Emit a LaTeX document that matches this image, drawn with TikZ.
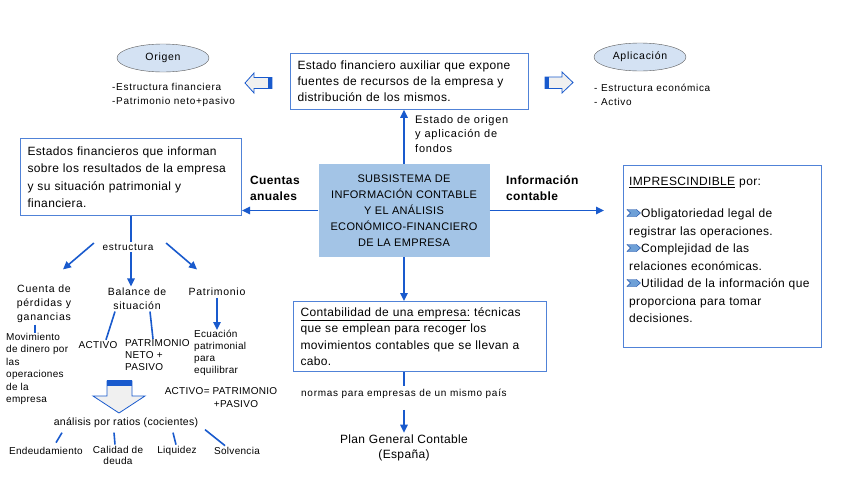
\documentclass[tikz,border=0pt]{standalone}
\usepackage{fontspec}
\setmainfont[LetterSpace=3]{Liberation Sans}
\newfontfamily\widefont[LetterSpace=7]{Liberation Sans}
\usepackage{tikz}
\usetikzlibrary{arrows.meta,shapes.geometric,positioning}

\definecolor{lineblue}{RGB}{25,90,205}
\definecolor{boxblue}{RGB}{80,130,215}
\definecolor{subfill}{RGB}{163,196,230}
\definecolor{ovalfill}{RGB}{212,226,243}
\definecolor{chevfill}{RGB}{110,160,215}

\begin{document}
\begin{tikzpicture}[x=1pt, y=-1pt,
  >={Triangle[length=8pt,width=7.5pt]},
  ln/.style={draw=lineblue, line width=1.6pt},
  box/.style={draw=boxblue, line width=1pt, fill=white, align=left, anchor=north west},
  oval/.style={ellipse, draw=gray!70!black, fill=ovalfill, minimum width=92pt, minimum height=28pt, font=\widefont\fontsize{10.5}{12}\selectfont},
  lst/.style={align=left, inner sep=0pt, font=\widefont\fontsize{10}{14}\selectfont},
  sm/.style={align=center, inner sep=1.5pt, font=\widefont\fontsize{10.5}{14}\selectfont},
  tight/.style={align=left, inner sep=0pt, font=\fontsize{10}{12.5}\selectfont},
  hd/.style={align=left, anchor=west, inner sep=0pt, font=\bfseries\fontsize{12}{16}\selectfont}]
  \useasboundingbox (0,0) rectangle (848,477);

  \node[oval] (origen) at (163,58) {Origen};
  \node[oval] (aplic) at (640,57) {Aplicación};
  \node[lst, anchor=west] (origlist) at (112,95) {-Estructura financiera\\-Patrimonio neto+pasivo};
  \node[lst, anchor=west] (aplist) at (594,95) {- Estructura económica\\- Activo};
  \filldraw[draw=lineblue, fill=gray!12, line width=0.8pt] (245,83) -- (254,73) -- (254,77.5) -- (272,77.5) -- (272,88.5) -- (254,88.5) -- (254,93) -- cycle;
  \fill[lineblue] (268,77.5) rectangle (272,88.5);
  \filldraw[draw=lineblue, fill=gray!12, line width=0.8pt] (573,82.5) -- (562,72) -- (562,77) -- (545,77) -- (545,88.5) -- (562,88.5) -- (562,93) -- cycle;
  \fill[lineblue] (545,77) rectangle (549,88.5);

  \node[box, text width=224pt, inner xsep=7pt, inner ysep=7.5pt, font=\fontsize{12}{16}\selectfont] (aux) at (290,53) {Estado financiero auxiliar que expone\\fuentes de recursos de la empresa y\\distribución de los mismos.};
  \node[fill=subfill, minimum width=171pt, minimum height=93pt, align=center, font=\fontsize{11}{16}\selectfont] (sub) at (404,210.5) {SUBSISTEMA DE\\INFORMACIÓN CONTABLE\\Y EL ANÁLISIS\\ECONÓMICO-FINANCIERO\\DE LA EMPRESA};
  \draw[ln, ->] (sub.north) -- (sub.north |- aux.south);
  \node[lst, anchor=north west, font=\widefont\fontsize{11}{14.5}\selectfont] (origapl) at (415,115) {Estado de origen\\y aplicación de\\fondos};

  \node[box, text width=207pt, inner xsep=7pt, inner ysep=8pt, font=\fontsize{12}{17.5}\selectfont] (cuentas) at (20,138) {Estados financieros que informan\\sobre los resultados de la empresa\\y su situación patrimonial y\\financiera.};
  \draw[ln, ->] (sub.west) -- (sub.west -| cuentas.east);
  \node[hd] (ca) at (250,188) {Cuentas\\anuales};
  \node[hd] (ic) at (506,188) {Información\\contable};
  \coordinate (icend) at (604,210.5);
  \draw[ln, ->] (sub.east) -- (icend);

  \node[draw=boxblue, line width=1pt, minimum width=198pt, minimum height=182pt, anchor=north west] (imp) at (623,165) {};
  \node[anchor=north west, inner sep=0pt, text width=190pt, align=left, font=\fontsize{12}{17.5}\selectfont] (imptxt) at ([xshift=6pt,yshift=-12pt]imp.north west) {\underline{IMPRESCINDIBLE} por:\\[14.5pt]
    \hspace*{12pt}Obligatoriedad legal de\\registrar las operaciones.\\
    \hspace*{12pt}Complejidad de las\\relaciones económicas.\\
    \hspace*{12pt}Utilidad de la información que\\proporciona para tomar\\decisiones.};
  \foreach \cy in {213,248,283}
    \filldraw[draw=lineblue!80!black, fill=chevfill, line width=0.4pt] (627,\cy-3.5) -- (636.5,\cy-3.5) -- (640.5,\cy) -- (636.5,\cy+3.5) -- (627,\cy+3.5) -- (630.5,\cy) -- cycle;

  \node[box, text width=239pt, inner xsep=7pt, inner ysep=6pt, font=\fontsize{12}{16.5}\selectfont] (conta) at (293,301) {\underline{Contabilidad de una empresa:} técnicas\\que se emplean para recoger los\\movimientos contables que se llevan a\\cabo.};
  \draw[ln, ->] (sub.south) -- (sub.south |- conta.north);
  \node[sm, inner ysep=3pt, font=\widefont\fontsize{10}{12}\selectfont] (normas) at (404,394) {normas para empresas de un mismo país};
  \draw[ln] (sub.south |- conta.south) -- (normas.north);
  \node[sm, font=\fontsize{12}{15}\selectfont] (plan) at (404,447.5) {Plan General Contable\\(España)};
  \draw[ln, ->, shorten <=8pt] (normas.south) -- (plan.north);

  \node[sm, font=\widefont\fontsize{10}{12}\selectfont] (estr) at (128,247) {estructura};
  \draw[ln] (cuentas.south) -- (cuentas.south |- estr.north);
  \node[sm] (cuenta) at (44,304) {Cuenta de\\pérdidas y\\ganancias};
  \node[sm] (balance) at (137,299) {Balance de\\situación};
  \node[sm] (patri) at (217,292) {Patrimonio};
  \draw[ln, ->] ([xshift=-7pt,yshift=4pt]estr.west) -- ([xshift=19pt,yshift=14pt]cuenta.north);
  \draw[ln, ->] (cuentas.south |- estr.south) -- (cuentas.south |- balance.north);
  \draw[ln, ->] ([xshift=11pt,yshift=4pt]estr.east) -- ([xshift=-20pt,yshift=17pt]patri.north);

  \node[tight, anchor=north west] (mov) at (6,333) {Movimiento\\de dinero por\\las\\operaciones\\de la\\empresa};
  \draw[ln] ([xshift=-9pt]cuenta.south) -- ([xshift=-9pt]cuenta.south |- mov.north);
  \node[sm, font=\fontsize{10}{12}\selectfont] (activo) at (98,345) {ACTIVO};
  \node[tight, anchor=north west, font=\fontsize{10}{12}\selectfont] (pnp) at (125,339) {PATRIMONIO\\NETO +\\PASIVO};
  \draw[ln] ([xshift=-22pt]balance.south) -- ([xshift=8pt]activo.north);
  \draw[ln] ([xshift=13pt]balance.south) -- ([xshift=28pt]pnp.north west);
  \node[tight, anchor=north west, font=\fontsize{10}{12}\selectfont] (ecua) at (194,330) {Ecuación\\patrimonial\\para\\equilibrar};
  \draw[ln, ->] (patri.south) -- (patri.south |- ecua.north);
  \node[sm, font=\fontsize{10}{13}\selectfont] (eqn) at (221,397.5) {ACTIVO= PATRIMONIO\\\hspace*{30pt}+PASIVO};

  \filldraw[draw=lineblue, fill=gray!12, line width=0.8pt] (107,381) -- (132,381) -- (132,396) -- (145,396) -- (119,413) -- (93,396) -- (107,396) -- cycle;
  \fill[lineblue] (107,380) rectangle (132,385.5);

  \node[sm, font=\fontsize{10.5}{12}\selectfont] (ratios) at (126,423) {análisis por ratios (cocientes)};
  \node[sm, font=\fontsize{10}{11.5}\selectfont] (endeud) at (46,451) {Endeudamiento};
  \node[sm, font=\fontsize{10}{11.5}\selectfont, anchor=north] (calidad) at (118,444.5) {Calidad de\\deuda};
  \node[sm, font=\fontsize{10}{11.5}\selectfont] (liquidez) at (177,451) {Liquidez};
  \node[sm, font=\fontsize{10}{11.5}\selectfont] (solvencia) at (237,451) {Solvencia};
  \draw[ln] ([xshift=-64pt,yshift=-3pt]ratios.south) -- ([xshift=10pt,yshift=3pt]endeud.north);
  \draw[ln] ([xshift=-12pt,yshift=-3pt]ratios.south) -- ([xshift=-3pt]calidad.north);
  \draw[ln] ([xshift=47pt,yshift=-3pt]ratios.south) -- ([xshift=-1pt]liquidez.north);
  \draw[ln] ([xshift=79pt]ratios.south) -- ([xshift=-12pt]solvencia.north);

\end{tikzpicture}
\end{document}
